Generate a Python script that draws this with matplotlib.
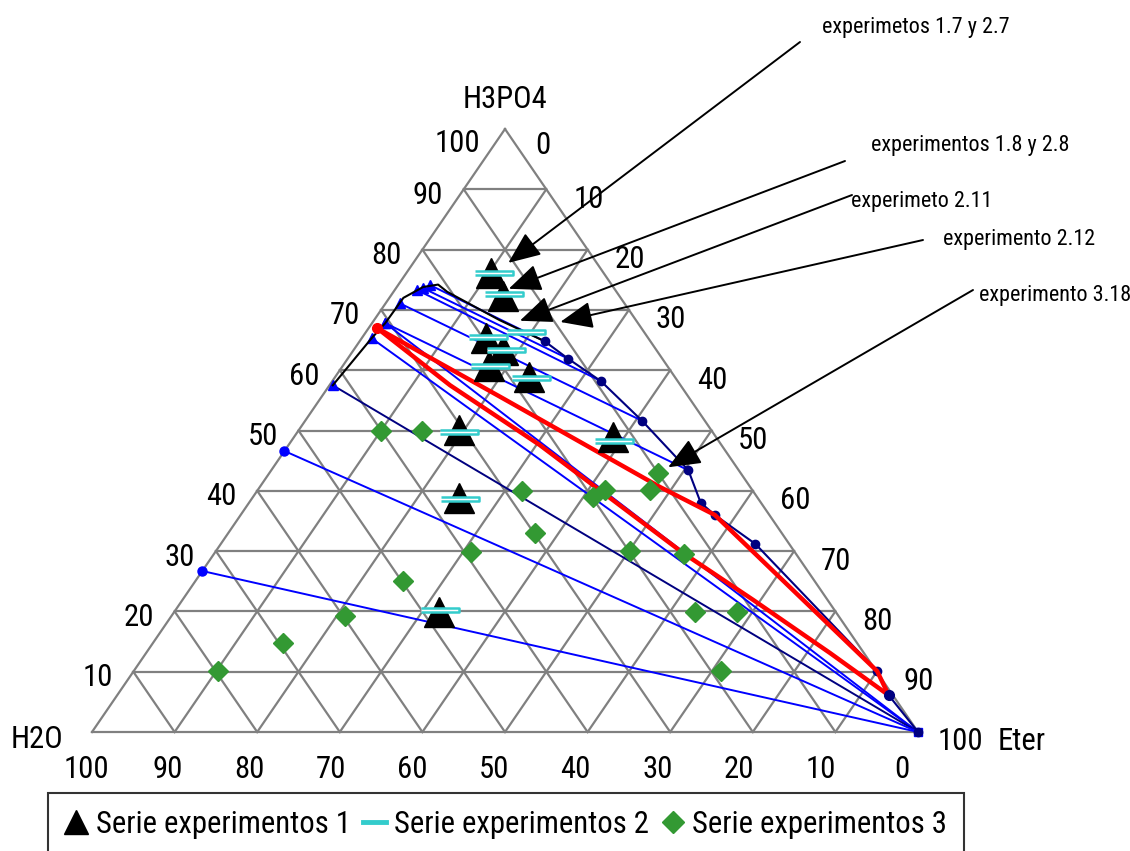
import matplotlib.pyplot as plt
from matplotlib import font_manager
from matplotlib.font_manager import FontProperties
from matplotlib.textpath import TextPath
from matplotlib.lines import Line2D

# % H3PO4 and % Eter (H2O = rest)
s1_h3po4 = [76.1, 72.3, 65.3, 63.3, 60.7, 58.9, 50.1, 48.9, 38.8, 19.9]
s1_eter = [10.3, 13.6, 15.1, 18.1, 17.7, 23.4, 19.4, 38.6, 25.0, 32.0]

s2_h3po4 = [76.1, 72.6, 66.3, 65.5, 63.3, 60.7, 58.7, 49.8, 48.3, 38.6, 20.2]
s2_eter = [10.6, 13.6, 19.4, 15.2, 18.5, 17.8, 23.8, 19.5, 39.0, 25.3, 32.0]

s3_h3po4 = [49.9, 49.9, 40.0, 33.0, 29.9, 25.0, 19.2, 14.8, 10.1,
            43.0, 40.1, 40.1, 39.0, 30.0, 29.5, 19.9, 19.9, 10.1]
s3_eter = [10.0, 15.0, 32.1, 37.1, 30.9, 25.2, 21.0, 15.7, 10.2,
           47.0, 47.5, 42.0, 41.2, 50.1, 56.9, 63.0, 68.1, 71.1]

# binodal curve
left_h3po4 = [57.5, 65.3, 67.8, 72.0, 73.8, 74.2, 73.0, 68.3, 64.8]
left_eter = [0.4, 1.2, 1.6, 1.7, 3.2, 4.8, 6.5, 15.2, 22.4]
right_h3po4 = [64.8, 61.9, 58.2, 51.6, 43.4, 38.0, 36.0, 31.2, 10.1, 6.1, 0.0]
right_eter = [22.4, 26.7, 32.5, 40.8, 50.5, 54.7, 57.4, 64.7, 90.0, 93.4, 100.0]

# tie lines (start -> end)
tie_h3po4_a = [74.1, 73.6, 73.3, 71.1, 67.8, 67.8, 65.3, 57.5, 46.6, 26.7]
tie_eter_a = [3.9, 3.3, 2.7, 1.7, 1.6, 1.6, 1.2, 0.4, 0.0, 0.0]
tie_h3po4_b = [64.8, 61.9, 58.2, 51.6, 43.4, 0.0, 0.0, 0.0, 0.0, 0.0]
tie_eter_b = [22.4, 26.7, 32.5, 40.8, 50.5, 100.0, 100.0, 100.0, 100.0, 100.0]

# red lines
red_a_h3po4 = [67.0, 55.6, 40.6, 36.0, 10.1, 6.1]
red_a_eter = [1.0, 21.6, 48.5, 57.4, 90.0, 93.4]
red_b_h3po4 = [67.0, 57.5, 47.6, 29.7, 21.9, 13.1, 6.1]
red_b_eter = [1.0, 14.6, 30.4, 56.7, 69.1, 82.8, 93.4]

notes = ['experimetos 1.7 y 2.7', 'experimentos 1.8 y 2.8', 'experimeto 2.11',
         'experimento 2.12', 'experimento 3.18']
note_h3po4 = [77.8, 73.5, 68.2, 68.0, 43.9]
note_eter = [11.5, 13.7, 17.7, 22.7, 47.8]

ticks = [0, 10, 20, 30, 40, 50, 60, 70, 80, 90, 100]
labels = ['Serie experimentos 1', 'Serie experimentos 2', 'Serie experimentos 3']

# the original uses Arial Narrow: take the narrowest regular sans face available
families = ('Liberation Sans', 'DejaVu Sans', 'Noto Sans', 'Roboto', 'Open Sans', 'Lato', 'Inter')
best = None
for f in font_manager.fontManager.ttflist:
    n = f.name
    if f.style != 'normal' or f.weight not in (400, 'normal', 'regular', 'book'):
        continue
    if any(s in n for s in ('Mono', 'Serif', 'CJK', 'Math', 'Display')):
        continue
    if not n.startswith(families):
        continue
    try:
        w = TextPath((0, 0), labels[0], size=1, prop=FontProperties(fname=f.fname)).get_extents().width
    except Exception:
        continue
    if best is None or w < best[0]:
        best = (w, f.fname)

fname = best[1] if best else None


def fp(size):
    if fname:
        return FontProperties(fname=fname, size=size)
    return FontProperties(family=['Liberation Sans', 'DejaVu Sans'], size=size)


def fit_size(text, px, lo, hi):
    # font size (pt) giving the text about the same width as in the original
    w = TextPath((0, 0), text, size=1, prop=fp(1)).get_extents().width
    return min(hi, max(lo, px / (w * 100 / 72)))


fs = fit_size(labels[0], 249, 17, 23)
fs_note = fit_size(notes[0], 186, 11, 16.5)


def tern(a, e):
    # a = %H3PO4 (top), e = %Eter (right)
    if isinstance(a, list):
        return [ei + ai / 2 for ai, ei in zip(a, e)], list(a)
    return e + a / 2, a


W, H = 1130, 851
fig = plt.figure(figsize=(W / 100, H / 100), dpi=100)
ax = fig.add_axes([0, 0, 1, 1])
ax.set_xlim(-92 / 8.26, (W - 92) / 8.26)
ax.set_ylim(-119 / 6.03, (H - 119) / 6.03)
ax.axis('off')

grey = '#808080'
for k in ticks:
    for p, q in [((k, 0), (k, 100 - k)), ((0, k), (100 - k, k)), ((0, 100 - k), (100 - k, 0))]:
        x0, y0 = tern(*p)
        x1, y1 = tern(*q)
        ax.plot([x0, x1], [y0, y1], color=grey, lw=1.6, zorder=1)

# scale labels
for k in ticks[1:]:
    off = (-48, -14) if k == 100 else (-36, -6)
    ax.annotate(str(k), tern(k, 0), xytext=off, textcoords='offset pixels',
                ha='center', va='center', fontproperties=fp(fs))
for k in ticks:
    off = (38, -16) if k == 100 else (42, -10)
    ax.annotate(str(100 - k), tern(k, 100 - k), xytext=off, textcoords='offset pixels',
                ha='center', va='center', fontproperties=fp(fs))
for w in ticks:
    ax.annotate(str(w), tern(0, 100 - w), xytext=(-6 - 0.1 * (100 - w), -37),
                textcoords='offset pixels', ha='center', va='center', fontproperties=fp(fs))

ax.annotate('H3PO4', tern(100, 0), xytext=(0, 30), textcoords='offset pixels',
            ha='center', va='center', fontproperties=fp(fs))
ax.annotate('H2O', tern(0, 0), xytext=(-55, -8), textcoords='offset pixels',
            ha='center', va='center', fontproperties=fp(fs))
ax.annotate('Eter', tern(0, 100), xytext=(104, -9), textcoords='offset pixels',
            ha='center', va='center', fontproperties=fp(fs))

# tie lines
for i in range(len(tie_h3po4_a)):
    x0, y0 = tern(tie_h3po4_a[i], tie_eter_a[i])
    x1, y1 = tern(tie_h3po4_b[i], tie_eter_b[i])
    c = '#000080' if i == 7 else '#0000FF'
    ax.plot([x0, x1], [y0, y1], color=c, lw=1.4, zorder=2)
    mk = 'o' if i >= 8 else '^'
    ax.plot(x0, y0, marker=mk, ms=6.5, color='#0000FF', zorder=3)
ax.plot(*tern(0, 100), marker='s', ms=6, color='#0000FF', zorder=3)

# binodal
x, y = tern(left_h3po4, left_eter)
ax.plot(x, y, color='black', lw=1.5, zorder=3)
x, y = tern(right_h3po4, right_eter)
ax.plot(x, y, color='#000080', lw=1.5, marker='o', ms=6, zorder=3)

# red lines
x, y = tern(red_a_h3po4, red_a_eter)
ax.plot(x, y, color='#FF0000', lw=3.2, zorder=4)
x, y = tern(red_b_h3po4, red_b_eter)
ax.plot(x, y, color='#FF0000', lw=3.2, zorder=4)
ax.plot(*tern(red_a_h3po4[0], red_a_eter[0]), marker='o', ms=7, color='#FF0000', zorder=4)
ax.plot(*tern(red_a_h3po4[-1], red_a_eter[-1]), marker='o', ms=7, color='#000080', zorder=5)

# series
x, y = tern(s3_h3po4, s3_eter)
ax.plot(x, y, ls='none', marker='D', ms=10.5, color='#339933', mec='#339933', zorder=6)
x, y = tern(s1_h3po4, s1_eter)
ax.plot(x, y, ls='none', marker='^', ms=21, color='black', zorder=7)
dash = [(-1, -0.12), (1, -0.12), (1, 0.12), (-1, 0.12)]
x, y = tern(s2_h3po4, s2_eter)
ax.plot(x, y, ls='none', marker=dash, ms=28, mfc='white', mec='#33CCCC', mew=1.8, zorder=8)

# callouts
text_px = [(916, 27), (970, 145), (922, 201), (1019, 240), (1055, 296)]
tail_px = [(800, 42), (845, 161), (852, 195), (923, 240), (973, 290)]
for i, t in enumerate(notes):
    fig.text(text_px[i][0] / W, 1 - text_px[i][1] / H, t, ha='center', va='center',
             fontproperties=fp(fs_note))
    ax.annotate('', xy=tern(note_h3po4[i], note_eter[i]),
                xytext=(tail_px[i][0], H - tail_px[i][1]), textcoords='figure pixels',
                arrowprops=dict(arrowstyle='-|>,head_length=1.0,head_width=0.42',
                                mutation_scale=20, color='black', lw=1.4,
                                shrinkA=0, shrinkB=0), zorder=9)

handles = [Line2D([], [], ls='none', marker='^', ms=17, color='black'),
           Line2D([], [], color='#33CCCC', lw=3.5),
           Line2D([], [], ls='none', marker='D', ms=11, color='#339933')]
leg = fig.legend(handles, labels, loc='upper left', ncol=3, prop=fp(fs),
                 bbox_to_anchor=(48 / W, 1 - 793 / H), frameon=True, fancybox=False,
                 handlelength=0.75, handletextpad=0.25, columnspacing=0.4,
                 borderpad=0.55, borderaxespad=0)
leg.get_frame().set_edgecolor('black')
leg.get_frame().set_linewidth(1.5)

fig.savefig('out.png', dpi=100)
